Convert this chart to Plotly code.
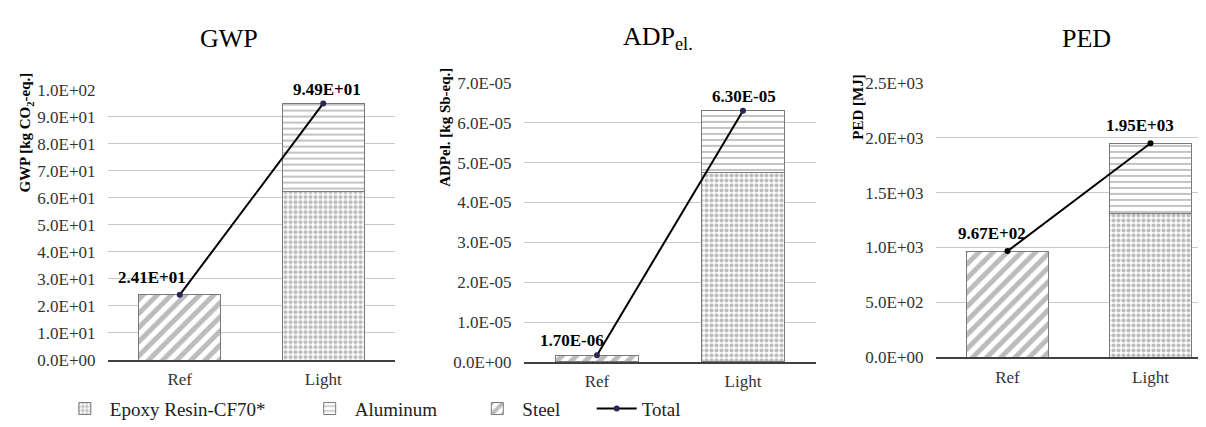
import plotly.graph_objects as go

# --- data ---
CATEGORIES = ['Ref', 'Light']

GWP_EPOXY = [None, 62.2]
GWP_ALU = [None, 32.7]
GWP_STEEL = [24.1, None]
GWP_TOTAL = [24.1, 94.9]
GWP_TICKS = [0, 10, 20, 30, 40, 50, 60, 70, 80, 90, 100]

ADP_EPOXY = [None, 4.75e-05]
ADP_ALU = [None, 1.55e-05]
ADP_STEEL = [1.70e-06, None]
ADP_TOTAL = [1.70e-06, 6.30e-05]
ADP_TICKS = [0, 1e-05, 2e-05, 3e-05, 4e-05, 5e-05, 6e-05, 7e-05]

PED_EPOXY = [None, 1307]
PED_ALU = [None, 643]
PED_STEEL = [967, None]
PED_TOTAL = [967, 1950]
PED_TICKS = [0, 500, 1000, 1500, 2000, 2500]

SERIES_NAMES = ['Epoxy Resin-CF70*', 'Aluminum', 'Steel', 'Total']
PANEL_TITLES = ['GWP', 'ADP<sub>el.</sub>', 'PED']
AXIS_TITLES = ['GWP [kg CO<sub>2</sub>-eq.]', 'ADPel. [kg Sb-eq.]', 'PED [MJ]']

# --- style ---
FONT = 'Liberation Serif'
GRAY = '#7a7a7a'
PATTERNS = [
    dict(shape='.', fgcolor=GRAY, bgcolor='white', size=5, solidity=0.55),
    dict(shape='-', fgcolor=GRAY, bgcolor='white', size=6, solidity=0.3),
    dict(shape='/', fgcolor=GRAY, bgcolor='white', size=10, solidity=0.5),
]
MARKER_COLORS = ['#2e2456', '#2e2456', 'black']
# label offsets (px) for the Total data labels, per panel [Ref, Light]
LABEL_SHIFTS = [[(-28, 17), (4, 14)], [(-25, 15), (1, 14)], [(-16, 18), (-11, 18)]]
# one legend per series so each entry sits where the reference has it
LEGEND_X = [0.043, 0.246, 0.385, 0.484]

panels = [
    (GWP_EPOXY, GWP_ALU, GWP_STEEL, GWP_TOTAL, GWP_TICKS),
    (ADP_EPOXY, ADP_ALU, ADP_STEEL, ADP_TOTAL, ADP_TICKS),
    (PED_EPOXY, PED_ALU, PED_STEEL, PED_TOTAL, PED_TICKS),
]

# panel placement in paper coords
X_DOMAINS = [[100 / 1206, 387 / 1206], [516 / 1206, 808 / 1206], [928 / 1206, 1.0]]
Y_DOMAINS = [[1 - 359 / 427, 1 - 76 / 427], [1 - 361 / 427, 1 - 69 / 427], [1 - 356 / 427, 1 - 69 / 427]]
X_RANGES = [[-0.5, 1.5], [-0.5, 1.5], [-0.5, 1.444]]
TITLE_POS = [(221, 22), (650, 22), (1078, 22)]
YTITLE_POS = [(18, 121), (437, 116), (850, 95)]

legend_ids = ['legend', 'legend2', 'legend3', 'legend4']

fig = go.Figure()
layout_axes = {}
annotations = []

for i, (epoxy, alu, steel, total, ticks) in enumerate(panels):
    n = '' if i == 0 else str(i + 1)
    xa, ya = 'x' + n, 'y' + n
    for j, vals in enumerate([epoxy, alu, steel]):
        fig.add_trace(go.Bar(
            x=CATEGORIES, y=vals, name=SERIES_NAMES[j],
            xaxis=xa, yaxis=ya, legendgroup=SERIES_NAMES[j], showlegend=(i == 0),
            legend=legend_ids[j],
            marker=dict(color='white', line=dict(color=GRAY, width=1), pattern=PATTERNS[j]),
        ))
    fig.add_trace(go.Scatter(
        x=CATEGORIES, y=total, name=SERIES_NAMES[3], mode='lines+markers',
        xaxis=xa, yaxis=ya, legendgroup='Total', showlegend=(i == 0),
        legend=legend_ids[3],
        line=dict(color='black', width=2),
        marker=dict(color=MARKER_COLORS[i], size=6),
    ))

    layout_axes['xaxis' + n] = dict(
        domain=X_DOMAINS[i], anchor=ya, range=X_RANGES[i], type='category',
        showline=True, linecolor='#404040', linewidth=2, showgrid=False,
        ticks='', ticklabelstandoff=3,
        tickfont=dict(family=FONT, size=17, color='#333333'),
    )
    layout_axes['yaxis' + n] = dict(
        domain=Y_DOMAINS[i], anchor=xa, range=[0, ticks[-1]],
        tickvals=ticks, ticktext=['{:.1E}'.format(t) for t in ticks],
        showgrid=True, gridcolor='#c8c8c8', gridwidth=1, zeroline=False,
        showline=False, ticks='outside', ticklen=8, tickcolor='rgba(0,0,0,0)',
        tickfont=dict(family=FONT, size=17, color='#333333'),
    )

    # total data labels
    for k, v in enumerate(total):
        dx, dy = LABEL_SHIFTS[i][k]
        annotations.append(dict(
            x=CATEGORIES[k], y=v, xref=xa, yref=ya, text='<b>{:.2E}</b>'.format(v),
            showarrow=False, xshift=dx, yshift=dy,
            font=dict(family=FONT, size=17, color='black'),
        ))

    tx, ty = TITLE_POS[i]
    annotations.append(dict(
        x=tx / 1206, y=1 - ty / 427, xref='paper', yref='paper', text=PANEL_TITLES[i],
        showarrow=False, xanchor='center', yanchor='middle',
        font=dict(family=FONT, size=26, color='black'),
    ))
    yx, yy = YTITLE_POS[i]
    annotations.append(dict(
        x=yx / 1206, y=1 - yy / 427, xref='paper', yref='paper', text='<b>' + AXIS_TITLES[i] + '</b>',
        showarrow=False, xanchor='center', yanchor='middle', textangle=-90,
        font=dict(family=FONT, size=15, color='black'),
    ))

legends = {}
for j, lid in enumerate(legend_ids):
    legends[lid] = dict(
        orientation='h', x=LEGEND_X[j], y=0.04, xanchor='left', yanchor='middle',
        font=dict(family=FONT, size=19, color='#222222'),
        itemwidth=40, bgcolor='rgba(0,0,0,0)',
    )

fig.update_layout(
    width=1206, height=427,
    margin=dict(l=0, r=0, t=0, b=0),
    paper_bgcolor='white', plot_bgcolor='white',
    barmode='stack', bargap=0.43,
    font=dict(family=FONT, color='black'),
    annotations=annotations,
    **legends,
    **layout_axes,
)

fig.write_html('out.html')
